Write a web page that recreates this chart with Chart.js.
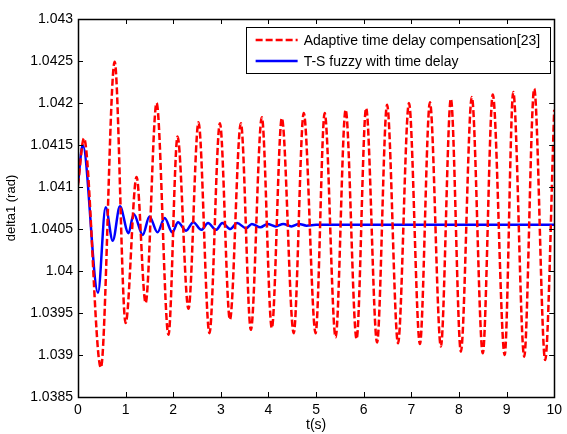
<!DOCTYPE html>
<html>
<head>
<meta charset="UTF-8">
<title>delta1</title>
<script src="https://cdn.jsdelivr.net/npm/chart.js"></script>
<style>
  body { margin: 0; background: #fff; }
  #c { display: block; }
</style>
</head>
<body>
<canvas id="c" width="567" height="434"></canvas>
<script>
// red dashed: Adaptive time delay compensation[23] (peaks / troughs)
const redT = [0, 0.125, 0.48, 0.77, 1.0, 1.23, 1.42, 1.65, 1.9, 2.09, 2.32, 2.53, 2.76, 2.98, 3.19,
  3.42, 3.63, 3.86, 4.07, 4.28, 4.53, 4.74, 4.99, 5.18, 5.41, 5.62, 5.85, 6.05, 6.28, 6.49, 6.72,
  6.95, 7.18, 7.39, 7.62, 7.83, 8.04, 8.27, 8.5, 8.71, 8.96, 9.14, 9.37, 9.58, 9.81, 10];
const redY = [1.04102, 1.04158, 1.03885, 1.04249, 1.03938, 1.04112, 1.03962, 1.04200, 1.03924, 1.04160,
  1.03955, 1.04177, 1.03926, 1.04176, 1.03942, 1.04176, 1.03930, 1.04183, 1.03932, 1.04182, 1.03926,
  1.04188, 1.03926, 1.04188, 1.03921, 1.04192, 1.03919, 1.04194, 1.03915, 1.04198, 1.03914, 1.04200,
  1.03913, 1.04201, 1.03910, 1.04205, 1.03904, 1.04207, 1.03902, 1.04210, 1.03900, 1.04213, 1.03898,
  1.04217, 1.03894, 1.04192];

// blue solid: T-S fuzzy with time delay
const blueT = [0, 0.1, 0.42, 0.58, 0.73, 0.88, 1.06, 1.17, 1.36, 1.5, 1.67, 1.82, 1.98, 2.1, 2.27,
  2.42, 2.59, 2.73, 2.9, 3.03, 3.2, 3.34, 3.53, 3.65, 3.83, 3.98, 4.15, 4.31, 4.48, 4.64, 4.8, 5.0, 10];
const blueY = [1.04105, 1.04150, 1.03974, 1.04076, 1.04036, 1.04077, 1.04045, 1.04068, 1.04043, 1.04065,
  1.04046, 1.04063, 1.04046, 1.04058, 1.04048, 1.04058, 1.04049, 1.04057, 1.04049, 1.04057, 1.04050,
  1.04057, 1.04051, 1.04056, 1.04052, 1.04056, 1.04053, 1.04056, 1.04053, 1.04056, 1.04054, 1.04055, 1.04055];

const seriesNames = ['Adaptive time delay compensation[23]', 'T-S fuzzy with time delay'];
const xMin = 0, xMax = 10, xStep = 1;
const yMin = 1.0385, yMax = 1.043, yStep = 0.0005;

const FONT = 'Arial, "Liberation Sans", sans-serif';

function pts(xs, ys) {
  return xs.map((x, i) => ({ x: x, y: ys[i] }));
}

// matlab style box, inward ticks on all four sides, legend inside the axes
const matlabAxes = {
  id: 'matlabAxes',
  afterDatasetsDraw(chart) {
    const ctx = chart.ctx;
    const a = chart.chartArea;
    const sx = chart.scales.x, sy = chart.scales.y;
    const tl = 5;
    ctx.save();
    ctx.strokeStyle = '#000';
    ctx.lineWidth = 1;
    ctx.beginPath();
    sx.ticks.forEach(t => {
      const px = Math.round(sx.getPixelForValue(t.value)) + 0.5;
      ctx.moveTo(px, a.bottom); ctx.lineTo(px, a.bottom - tl);
      ctx.moveTo(px, a.top); ctx.lineTo(px, a.top + tl);
    });
    sy.ticks.forEach(t => {
      const py = Math.round(sy.getPixelForValue(t.value)) + 0.5;
      ctx.moveTo(a.left, py); ctx.lineTo(a.left + tl, py);
      ctx.moveTo(a.right, py); ctx.lineTo(a.right - tl, py);
    });
    ctx.stroke();
    ctx.lineWidth = 1.5;
    ctx.strokeRect(Math.round(a.left) + 0.5, Math.round(a.top) + 0.5,
      Math.round(a.right - a.left), Math.round(a.bottom - a.top));

    // legend
    ctx.font = '14px ' + FONT;
    const w = Math.max(...seriesNames.map(s => ctx.measureText(s).width));
    const boxW = 10 + 42 + 6 + w + 9;
    const boxR = a.right - 5;
    const boxL = boxR - boxW;
    const boxT = a.top + 8;
    const rowH = 21;
    const boxH = 46;
    ctx.fillStyle = '#fff';
    ctx.fillRect(boxL, boxT, boxW, boxH);
    ctx.lineWidth = 1;
    ctx.strokeStyle = '#000';
    ctx.strokeRect(Math.round(boxL) + 0.5, Math.round(boxT) + 0.5, Math.round(boxW), boxH);
    chart.data.datasets.forEach((ds, i) => {
      const y = boxT + 13 + i * rowH;
      ctx.strokeStyle = ds.borderColor;
      ctx.lineWidth = ds.borderWidth;
      ctx.setLineDash(ds.borderDash || []);
      ctx.beginPath();
      ctx.moveTo(boxL + 10, y); ctx.lineTo(boxL + 52, y);
      ctx.stroke();
      ctx.setLineDash([]);
      ctx.fillStyle = '#000';
      ctx.textBaseline = 'middle';
      ctx.textAlign = 'left';
      ctx.fillText(ds.label, boxL + 58, y + 1);
    });
    ctx.restore();
  }
};

new Chart(document.getElementById('c').getContext('2d'), {
  type: 'line',
  data: {
    datasets: [
      {
        label: seriesNames[0],
        data: pts(redT, redY),
        borderColor: '#ff0000',
        borderWidth: 2.5,
        borderDash: [7, 3],
        pointRadius: 0,
        cubicInterpolationMode: 'monotone',
        fill: false
      },
      {
        label: seriesNames[1],
        data: pts(blueT, blueY),
        borderColor: '#0000ff',
        borderWidth: 2.5,
        pointRadius: 0,
        cubicInterpolationMode: 'monotone',
        fill: false
      }
    ]
  },
  options: {
    responsive: false,
    animation: false,
    layout: { padding: { top: 19, right: 10, left: 0, bottom: 0 } },
    plugins: {
      legend: { display: false },
      tooltip: { enabled: false }
    },
    scales: {
      x: {
        type: 'linear',
        min: xMin, max: xMax,
        grid: { display: false, drawTicks: false },
        border: { display: false },
        ticks: {
          stepSize: xStep,
          padding: 5,
          color: '#000',
          font: { family: FONT, size: 14 },
          maxRotation: 0,
          callback: v => String(v)
        },
        title: {
          display: true, text: 't(s)', color: '#000',
          font: { family: FONT, size: 14 },
          padding: { top: 0, bottom: 0 }
        },
        afterFit(scale) { scale.height = 37; }
      },
      y: {
        type: 'linear',
        min: yMin, max: yMax,
        grid: { display: false, drawTicks: false },
        border: { display: false },
        ticks: {
          stepSize: yStep,
          padding: 5,
          color: '#000',
          font: { family: FONT, size: 14 },
          callback: v => String(Number(v.toFixed(4)))
        },
        title: {
          display: true, text: 'delta1 (rad)', color: '#000',
          font: { family: FONT, size: 13 },
          padding: { top: 4, bottom: 4 }
        },
        afterFit(scale) { scale.width = 78; }
      }
    }
  },
  plugins: [matlabAxes]
});
</script>
</body>
</html>
